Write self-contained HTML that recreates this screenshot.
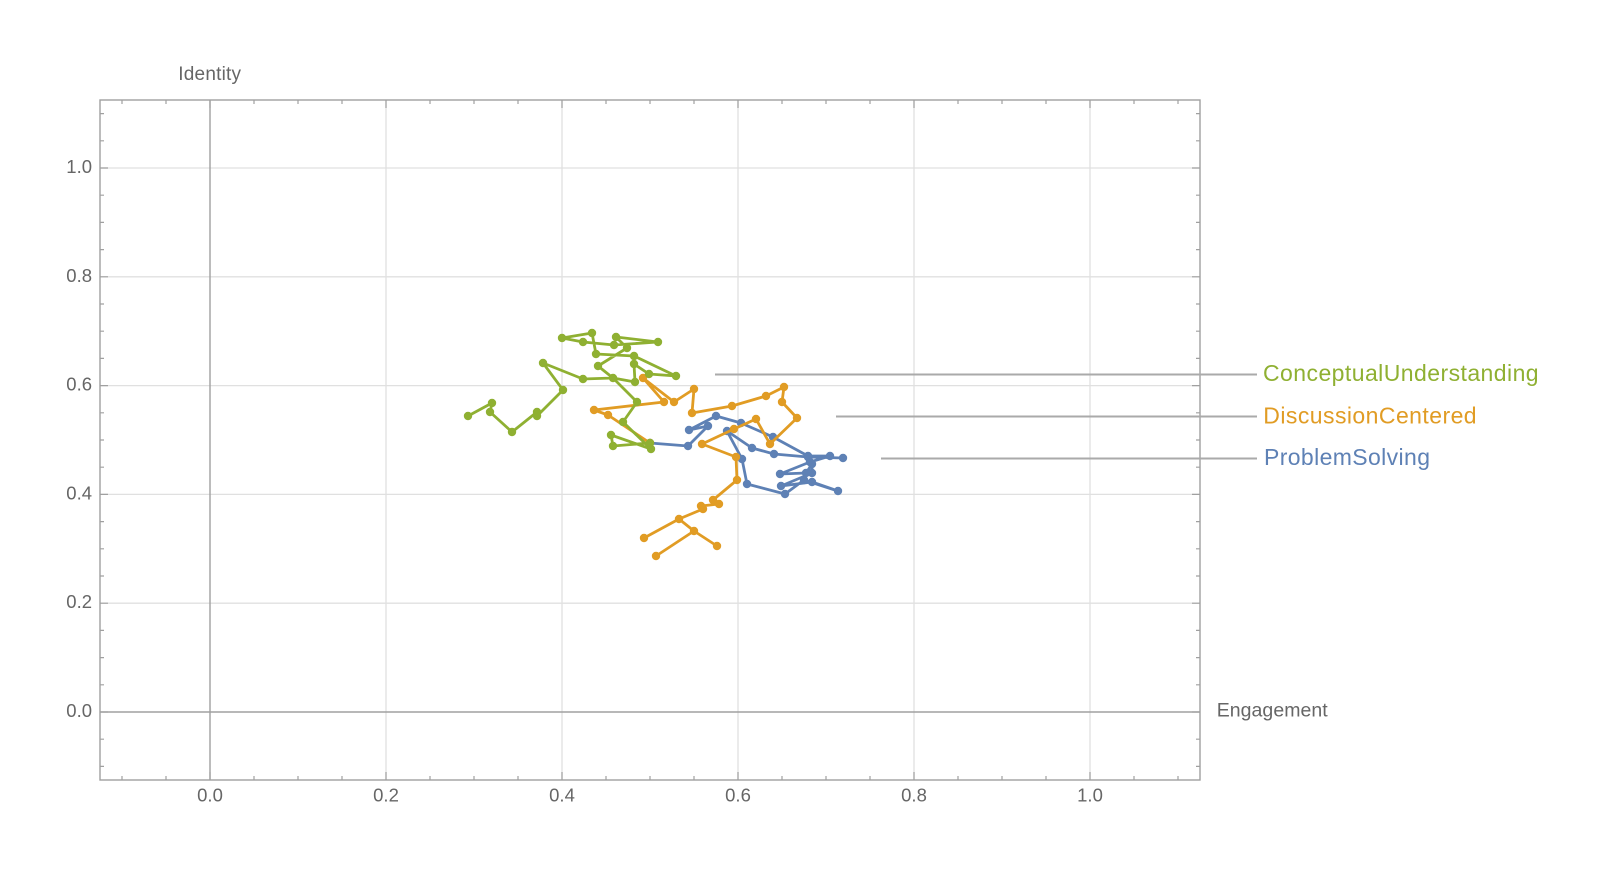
<!DOCTYPE html>
<html>
<head>
<meta charset="utf-8">
<style>
  html,body{margin:0;padding:0;background:#fff;}
  svg{display:block;}
  text{font-family:"Liberation Sans", Arial, sans-serif;}
</style>
</head>
<body>
<svg width="1600" height="880" viewBox="0 0 1600 880" xmlns="http://www.w3.org/2000/svg">
  <rect width="1600" height="880" fill="#ffffff"/>

  <!-- gridlines -->
  <g stroke="#e0e0e0" stroke-width="1.3">
    <line x1="386" y1="100" x2="386" y2="780"/>
    <line x1="562" y1="100" x2="562" y2="780"/>
    <line x1="738" y1="100" x2="738" y2="780"/>
    <line x1="914" y1="100" x2="914" y2="780"/>
    <line x1="1090" y1="100" x2="1090" y2="780"/>
    <line x1="100" y1="603.2" x2="1200" y2="603.2"/>
    <line x1="100" y1="494.4" x2="1200" y2="494.4"/>
    <line x1="100" y1="385.6" x2="1200" y2="385.6"/>
    <line x1="100" y1="276.8" x2="1200" y2="276.8"/>
    <line x1="100" y1="168" x2="1200" y2="168"/>
  </g>

  <!-- axes -->
  <g stroke="#a0a0a0" stroke-width="1.4">
    <line x1="210" y1="100" x2="210" y2="780"/>
    <line x1="100" y1="712" x2="1200" y2="712"/>
  </g>

  <!-- frame -->
  <rect x="100" y="100" width="1100" height="680" fill="none" stroke="#a0a0a0" stroke-width="1.4"/>

  <!-- frame ticks -->
  <g stroke="#a0a0a0" stroke-width="1.2">
    <path d="M122 780v-4M166 780v-4M254 780v-4M298 780v-4M342 780v-4M430 780v-4M474 780v-4M518 780v-4M606 780v-4M650 780v-4M694 780v-4M782 780v-4M826 780v-4M870 780v-4M958 780v-4M1002 780v-4M1046 780v-4M1134 780v-4M1178 780v-4"/>
    <path d="M122 100v4M166 100v4M254 100v4M298 100v4M342 100v4M430 100v4M474 100v4M518 100v4M606 100v4M650 100v4M694 100v4M782 100v4M826 100v4M870 100v4M958 100v4M1002 100v4M1046 100v4M1134 100v4M1178 100v4"/>
    <path d="M210 780v-8M386 780v-8M562 780v-8M738 780v-8M914 780v-8M1090 780v-8"/>
    <path d="M210 100v8M386 100v8M562 100v8M738 100v8M914 100v8M1090 100v8"/>
    <path d="M100 766.4h4M100 739.2h4M100 684.8h4M100 657.6h4M100 630.4h4M100 576h4M100 548.8h4M100 521.6h4M100 467.2h4M100 440h4M100 412.8h4M100 358.4h4M100 331.2h4M100 304h4M100 249.6h4M100 222.4h4M100 195.2h4M100 140.8h4M100 113.6h4"/>
    <path d="M1200 766.4h-4M1200 739.2h-4M1200 684.8h-4M1200 657.6h-4M1200 630.4h-4M1200 576h-4M1200 548.8h-4M1200 521.6h-4M1200 467.2h-4M1200 440h-4M1200 412.8h-4M1200 358.4h-4M1200 331.2h-4M1200 304h-4M1200 249.6h-4M1200 222.4h-4M1200 195.2h-4M1200 140.8h-4M1200 113.6h-4"/>
    <path d="M100 712h8M100 603.2h8M100 494.4h8M100 385.6h8M100 276.8h8M100 168h8"/>
    <path d="M1200 712h-8M1200 603.2h-8M1200 494.4h-8M1200 385.6h-8M1200 276.8h-8M1200 168h-8"/>
  </g>

  <!-- tick labels -->
  <g fill="#666666" font-size="18.5">
    <g text-anchor="middle">
      <text x="210" y="801.5">0.0</text>
      <text x="386" y="801.5">0.2</text>
      <text x="562" y="801.5">0.4</text>
      <text x="738" y="801.5">0.6</text>
      <text x="914" y="801.5">0.8</text>
      <text x="1090" y="801.5">1.0</text>
    </g>
    <g text-anchor="end">
      <text x="92" y="717">0.0</text>
      <text x="92" y="608.2">0.2</text>
      <text x="92" y="499.4">0.4</text>
      <text x="92" y="390.6">0.6</text>
      <text x="92" y="281.8">0.8</text>
      <text x="92" y="173">1.0</text>
    </g>
  </g>

  <!-- axis labels -->
  <text x="178.3" y="80" font-size="19" fill="#666666" textLength="62.7" lengthAdjust="spacing">Identity</text>
  <text x="1216.7" y="716.7" font-size="19.5" fill="#666666" textLength="111" lengthAdjust="spacing">Engagement</text>

  <!-- callout lines -->
  <g stroke="#aaaaaa" stroke-width="2">
    <line x1="715" y1="374.5" x2="1257" y2="374.5"/>
    <line x1="836" y1="416.5" x2="1257" y2="416.5"/>
    <line x1="881" y1="458.5" x2="1257" y2="458.5"/>
  </g>

  <!-- legend labels -->
  <text x="1263" y="381" font-size="23" fill="#8FB032" textLength="275.6" lengthAdjust="spacing">ConceptualUnderstanding</text>
  <text x="1263.3" y="423.3" font-size="23" fill="#E19C24" textLength="213.3" lengthAdjust="spacing">DiscussionCentered</text>
  <text x="1264" y="465" font-size="23" fill="#5E81B5" textLength="166" lengthAdjust="spacing">ProblemSolving</text>

  <!-- ProblemSolving (blue) -->
  <g fill="#5E81B5" stroke="#5E81B5">
    <polyline fill="none" stroke-width="2.8" stroke-linejoin="round" stroke-linecap="round"
      points="650,443 688,446 708,426 689,430 716,416 741,423 773,437 808,456 830,456 810,462 780,474 806,473 812,464 812,473 781,486 812,482 838,491 804,480 785,494 747,484 742,459 727,431 752,448 774,454 808,457 843,458"/>
    <g stroke="none">
      <circle cx="650" cy="443" r="4.2"/><circle cx="688" cy="446" r="4.2"/><circle cx="708" cy="426" r="4.2"/>
      <circle cx="689" cy="430" r="4.2"/><circle cx="716" cy="416" r="4.2"/><circle cx="741" cy="423" r="4.2"/>
      <circle cx="773" cy="437" r="4.2"/><circle cx="808" cy="456" r="4.2"/><circle cx="830" cy="456" r="4.2"/>
      <circle cx="810" cy="462" r="4.2"/><circle cx="780" cy="474" r="4.2"/><circle cx="806" cy="473" r="4.2"/>
      <circle cx="812" cy="464" r="4.2"/><circle cx="812" cy="473" r="4.2"/><circle cx="781" cy="486" r="4.2"/>
      <circle cx="812" cy="482" r="4.2"/><circle cx="838" cy="491" r="4.2"/><circle cx="804" cy="480" r="4.2"/>
      <circle cx="785" cy="494" r="4.2"/><circle cx="747" cy="484" r="4.2"/><circle cx="742" cy="459" r="4.2"/>
      <circle cx="727" cy="431" r="4.2"/><circle cx="752" cy="448" r="4.2"/><circle cx="774" cy="454" r="4.2"/>
      <circle cx="808" cy="457" r="4.2"/><circle cx="843" cy="458" r="4.2"/>
    </g>
  </g>

  <!-- DiscussionCentered (orange) -->
  <g fill="#E19C24" stroke="#E19C24">
    <polyline fill="none" stroke-width="2.8" stroke-linejoin="round" stroke-linecap="round"
      points="656,556 694,531 717,546 694,531 679,519 644,538 679,519 703,509 701,506 719,504 713,500 737,480 736,457 702,444 734,429 756,419 770,444 797,418"/>
    <polyline fill="none" stroke-width="2.8" stroke-linejoin="round" stroke-linecap="round"
      points="650,443 608,415 594,410 664,402 643,378 674,402 694,389 692,413 732,406 766,396 784,387 782,402 797,418"/>
    <g stroke="none">
      <circle cx="650" cy="443" r="4.2"/><circle cx="608" cy="415" r="4.2"/><circle cx="594" cy="410" r="4.2"/>
      <circle cx="664" cy="402" r="4.2"/><circle cx="643" cy="378" r="4.2"/><circle cx="674" cy="402" r="4.2"/>
      <circle cx="694" cy="389" r="4.2"/><circle cx="692" cy="413" r="4.2"/><circle cx="732" cy="406" r="4.2"/>
      <circle cx="766" cy="396" r="4.2"/><circle cx="784" cy="387" r="4.2"/><circle cx="782" cy="402" r="4.2"/>
      <circle cx="797" cy="418" r="4.2"/><circle cx="770" cy="444" r="4.2"/><circle cx="756" cy="419" r="4.2"/>
      <circle cx="734" cy="429" r="4.2"/><circle cx="702" cy="444" r="4.2"/><circle cx="736" cy="457" r="4.2"/>
      <circle cx="737" cy="480" r="4.2"/><circle cx="713" cy="500" r="4.2"/><circle cx="719" cy="504" r="4.2"/>
      <circle cx="701" cy="506" r="4.2"/><circle cx="703" cy="509" r="4.2"/><circle cx="679" cy="519" r="4.2"/>
      <circle cx="644" cy="538" r="4.2"/><circle cx="694" cy="531" r="4.2"/><circle cx="717" cy="546" r="4.2"/>
      <circle cx="656" cy="556" r="4.2"/>
    </g>
  </g>

  <!-- ConceptualUnderstanding (green) -->
  <g fill="#8FB032" stroke="#8FB032">
    <polyline fill="none" stroke-width="2.8" stroke-linejoin="round" stroke-linecap="round"
      points="468,416 492,403 490,412 512,432 537,412 537,416 563,390 543,363 583,379 613,378 598,366 627,348 616,337 658,342 614,345 583,342 562,338 592,333 596,354 634,356 676,376 649,374 634,364 635,382 613,378 637,402 623,422 651,449 611,435 613,446 650,443"/>
    <polyline fill="none" stroke-width="2.8" stroke-linejoin="round" stroke-linecap="round"
      points="634,356 634,364"/>
    <g stroke="none">
      <circle cx="468" cy="416" r="4.2"/><circle cx="492" cy="403" r="4.2"/><circle cx="490" cy="412" r="4.2"/>
      <circle cx="512" cy="432" r="4.2"/><circle cx="537" cy="412" r="4.2"/><circle cx="537" cy="416" r="4.2"/>
      <circle cx="563" cy="390" r="4.2"/><circle cx="543" cy="363" r="4.2"/><circle cx="583" cy="379" r="4.2"/>
      <circle cx="613" cy="378" r="4.2"/><circle cx="598" cy="366" r="4.2"/><circle cx="627" cy="348" r="4.2"/>
      <circle cx="616" cy="337" r="4.2"/><circle cx="658" cy="342" r="4.2"/><circle cx="614" cy="345" r="4.2"/>
      <circle cx="583" cy="342" r="4.2"/><circle cx="562" cy="338" r="4.2"/><circle cx="592" cy="333" r="4.2"/>
      <circle cx="596" cy="354" r="4.2"/><circle cx="634" cy="356" r="4.2"/><circle cx="676" cy="376" r="4.2"/>
      <circle cx="649" cy="374" r="4.2"/><circle cx="634" cy="364" r="4.2"/><circle cx="635" cy="382" r="4.2"/>
      <circle cx="637" cy="402" r="4.2"/><circle cx="623" cy="422" r="4.2"/><circle cx="651" cy="449" r="4.2"/>
      <circle cx="611" cy="435" r="4.2"/><circle cx="613" cy="446" r="4.2"/><circle cx="650" cy="443" r="4.2"/>
    </g>
  </g>
</svg>
</body>
</html>
